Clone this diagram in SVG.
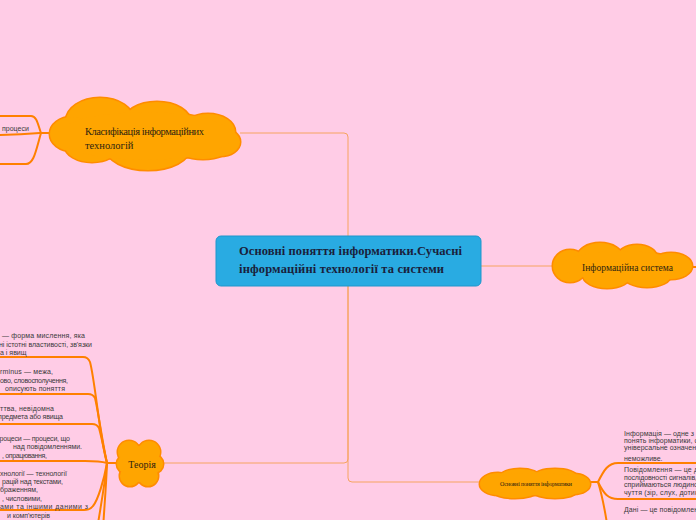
<svg xmlns="http://www.w3.org/2000/svg" width="696" height="520" viewBox="0 0 696 520">
<style>
.bg{fill:#ffcce6}
.thin{fill:none;stroke:#f6a460;stroke-width:1}
.thick{fill:none;stroke:#ff8000;stroke-width:2;stroke-linecap:round}
.cs{fill:#ffa500;stroke:#ff8c00;stroke-width:3}
.cf{fill:#ffa500;stroke:none}
.ct{font-family:"Liberation Serif",serif;fill:#2e2410}
.st{font-family:"Liberation Sans",Arial,sans-serif;font-size:7px;fill:#3a3a3a}
.mt{font-family:"Liberation Serif",serif;font-weight:bold;font-size:12.5px;fill:#1a1f3c}
</style>
<defs>
<g id="cloudTop">
<ellipse cx="100" cy="121" rx="34" ry="23"/>
<ellipse cx="157" cy="123" rx="34" ry="21"/>
<ellipse cx="208" cy="132" rx="27" ry="18"/>
<ellipse cx="220" cy="142" rx="20" ry="14"/>
<ellipse cx="72" cy="134" rx="22" ry="17"/>
<ellipse cx="92" cy="146" rx="27" ry="16"/>
<ellipse cx="148" cy="148" rx="42" ry="22"/>
<ellipse cx="203" cy="146" rx="28" ry="13"/>
<ellipse cx="145" cy="136" rx="88" ry="24"/>
</g>
<g id="cloudRight">
<ellipse cx="570" cy="266" rx="17" ry="16"/>
<ellipse cx="600" cy="258" rx="23" ry="15"/>
<ellipse cx="637" cy="258" rx="20" ry="13"/>
<ellipse cx="671" cy="266" rx="21" ry="13"/>
<ellipse cx="607" cy="275" rx="24" ry="13"/>
<ellipse cx="647" cy="275" rx="24" ry="12"/>
<ellipse cx="622" cy="266" rx="60" ry="15"/>
</g>
<g id="cloudTheory">
<circle cx="129" cy="452" r="11"/>
<circle cx="149" cy="452" r="11"/>
<circle cx="154" cy="464" r="9"/>
<circle cx="148" cy="476" r="10"/>
<circle cx="130" cy="476" r="10"/>
<circle cx="126" cy="464" r="9"/>
<circle cx="140" cy="464" r="18"/>
</g>
<g id="cloudBottom">
<ellipse cx="498" cy="484" rx="18" ry="11"/>
<ellipse cx="520" cy="477" rx="20" ry="8"/>
<ellipse cx="555" cy="477" rx="22" ry="8"/>
<ellipse cx="574" cy="484" rx="16" ry="10"/>
<ellipse cx="515" cy="491" rx="22" ry="7"/>
<ellipse cx="555" cy="491" rx="22" ry="7"/>
<ellipse cx="534" cy="484" rx="52" ry="11"/>
</g>
</defs>
<rect class="bg" x="0" y="0" width="696" height="520"/>

<g id="connectors">
<path class="thin" d="M240,133 H344 Q348,133 348,137 V236"/>
<path class="thin" d="M481,266 H555"/>
<path class="thin" d="M348,286 V478 Q348,482 352,482 H479"/>
<path class="thin" d="M348,286 V459 Q348,463 344,463 H163"/>
<path class="thick" d="M691,267 H700"/>
<path class="thick" d="M51,133 H41"/>
<path class="thick" d="M41,133 C38,125 37,116 31,116 H-5"/>
<path class="thick" d="M41,133 C30,134 20,135 -5,135"/>
<path class="thick" d="M41,133 C36,150 34,164 26,164 H-5"/>
<path class="thick" d="M117,463 H107"/>
<path class="thick" d="M107,463 C100,440 95,380 90,362 Q88,357 83,357 H-5"/>
<path class="thick" d="M107,463 C102,440 98,410 95,398 Q93,394 88,394 H-5"/>
<path class="thick" d="M107,463 C104,450 101,435 99,428 Q97,424 92,424 H-5"/>
<path class="thick" d="M107,463 C100,461 95,461 85,461 H-5"/>
<path class="thick" d="M107,463 C104,480 98,500 93,506 Q90,510 84,510 H-5"/>
<path class="thick" d="M107,463 C104,490 100,510 97,530"/>
<path class="thick" d="M107,463 C106,490 104,510 103,530"/>
<path class="thick" d="M589,482 H598"/>
<path class="thick" d="M598,482 C604,470 608,463 618,463 H700"/>
<path class="thick" d="M598,482 C604,494 608,499 618,499 H700"/>
<path class="thick" d="M598,482 C602,495 605,510 608,530"/>
</g>

<g id="node-main">
<rect x="216" y="236" width="265" height="50" rx="5" fill="#29abe2" stroke="#1e96cb" stroke-width="1"/>
<text class="mt" x="239" y="255" textLength="223" lengthAdjust="spacing">Основні поняття інформатики.Сучасні</text>
<text class="mt" x="239" y="273" textLength="205" lengthAdjust="spacing">інформаційні технології та системи</text>
</g>

<g id="node-classification">
<use href="#cloudTop" class="cs"/>
<use href="#cloudTop" class="cf"/>
<text class="ct" x="85" y="134.5" font-size="10.5" textLength="119" lengthAdjust="spacing">Класифікація інформаційних</text>
<text class="ct" x="85" y="148.5" font-size="10.5">технологій</text>
</g>

<g id="node-infosystem">
<use href="#cloudRight" class="cs"/>
<use href="#cloudRight" class="cf"/>
<text class="ct" x="582" y="271" font-size="9.5" textLength="91" lengthAdjust="spacing">Інформаційна система</text>
</g>

<g id="node-theory">
<use href="#cloudTheory" class="cs"/>
<use href="#cloudTheory" class="cf"/>
<text class="ct" x="142" y="468" font-size="10" text-anchor="middle">Теорія</text>
</g>

<g id="node-basics">
<use href="#cloudBottom" class="cs"/>
<use href="#cloudBottom" class="cf"/>
<text class="ct" x="500" y="485.5" font-size="6" textLength="72" lengthAdjust="spacing">Основні поняття інформатики</text>
</g>

<g id="node-processes">
<text class="st" x="2" y="131">процеси</text>
</g>

<g id="node-concept">
<text class="st" x="2" y="337.5" textLength="83" lengthAdjust="spacing">— форма мислення, яка</text>
<text class="st" x="-1" y="346.5" textLength="93" lengthAdjust="spacing">ні істотні властивості, зв'язки</text>
<text class="st" x="0" y="355">а і явищ</text>
</g>

<g id="node-term">
<text class="st" x="-6" y="374" textLength="59" lengthAdjust="spacing">terminus — межа,</text>
<text class="st" x="0" y="382.5" textLength="68" lengthAdjust="spacing">ово, словосполучення,</text>
<text class="st" x="5" y="391" textLength="60" lengthAdjust="spacing">описують поняття</text>
</g>

<g id="node-property">
<text class="st" x="0" y="410.5" textLength="54" lengthAdjust="spacing">ттва, невідомна</text>
<text class="st" x="-2" y="419" textLength="65" lengthAdjust="spacing">предмета або явища</text>
</g>

<g id="node-infoprocesses">
<text class="st" x="-4" y="440.5" textLength="74" lengthAdjust="spacing">процеси — процеси, що</text>
<text class="st" x="13" y="449" textLength="69" lengthAdjust="spacing">над повідомленнями.</text>
<text class="st" x="2" y="457.5" textLength="45" lengthAdjust="spacing">, опрацювання,</text>
</g>

<g id="node-infotech">
<text class="st" x="0" y="475.5" textLength="67" lengthAdjust="spacing">хнології — технології</text>
<text class="st" x="2" y="484" textLength="61" lengthAdjust="spacing">рацій над текстами,</text>
<text class="st" x="0" y="492.3" textLength="38" lengthAdjust="spacing">браженням,</text>
<text class="st" x="2" y="500.5" textLength="40" lengthAdjust="spacing">, числовими,</text>
<text class="st" x="0" y="509" textLength="88" lengthAdjust="spacing">ами та іншими даними з</text>
<text class="st" x="7" y="517.5" textLength="43" lengthAdjust="spacing">и комп'ютерів</text>
</g>

<g id="node-information">
<text class="st" x="624" y="436" textLength="70" lengthAdjust="spacing">Інформація — одне з</text>
<text class="st" x="624" y="443" textLength="74" lengthAdjust="spacing">понять інформатики, с</text>
<text class="st" x="624" y="450" textLength="76" lengthAdjust="spacing">універсальне означенн</text>
<text class="st" x="624" y="460.5">неможливе.</text>
</g>

<g id="node-message">
<text class="st" x="624" y="472" textLength="74" lengthAdjust="spacing">Повідомлення — це д</text>
<text class="st" x="624" y="479.5" textLength="73" lengthAdjust="spacing">послідовності сигналів,</text>
<text class="st" x="624" y="487" textLength="74" lengthAdjust="spacing">сприймаються людино</text>
<text class="st" x="624" y="495" textLength="74" lengthAdjust="spacing">чуття (зір, слух, дотик</text>
</g>

<g id="node-data">
<text class="st" x="624" y="512" textLength="74" lengthAdjust="spacing">Дані — це повідомлен</text>
</g>
</svg>
